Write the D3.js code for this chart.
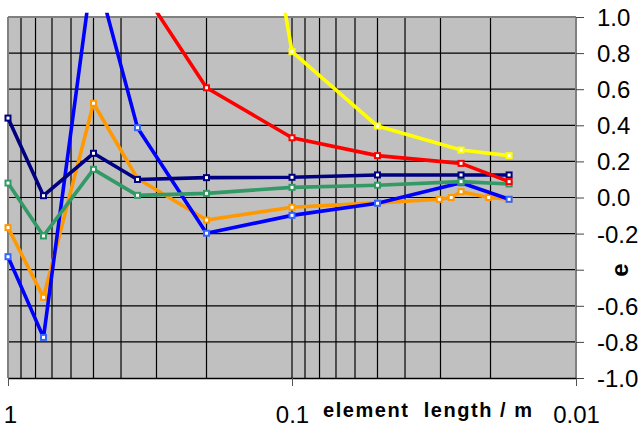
<!DOCTYPE html>
<html><head><meta charset="utf-8">
<script src="https://cdn.jsdelivr.net/npm/d3@7"></script>
<style>html,body{margin:0;padding:0;background:#fff;}svg{display:block;}</style>
</head><body>
<svg id="c" width="638" height="427"></svg>
<script>
// ---- data ----
const xTickLabels = ["1", "0.1", "0.01"];
const xTickValues = [1, 0.1, 0.01];
const yTickValues = [-1.0, -0.8, -0.6, -0.4, -0.2, 0.0, 0.2, 0.4, 0.6, 0.8, 1.0];
const yTickLabels = ["-1.0", "-0.8", "-0.6", "", "-0.2", "0.0", "0.2", "0.4", "0.6", "0.8", "1.0"];
const xGridValues = [0.9,0.8,0.7,0.6,0.5,0.4,0.3,0.2,0.1,0.09,0.08,0.07,0.06,0.05,0.04,0.03,0.02];

const lenMain   = [1, 0.75, 0.5, 0.35, 0.2, 0.1, 0.05, 0.0254, 0.0172];
const navyVals  = [0.44, 0.01, 0.245, 0.10, 0.11, 0.112, 0.125, 0.125, 0.125];
const greenVals = [0.08, -0.213, 0.156, 0.012, 0.023, 0.056, 0.068, 0.088, 0.075];
const blueVals  = [-0.328, -0.775, 1.3, 0.387, -0.198, -0.099, -0.032, 0.082, -0.01];
const lenOrange = [1, 0.75, 0.5, 0.35, 0.2, 0.1, 0.05, 0.0303, 0.0275, 0.0254, 0.0203, 0.0172];
const orangeVals= [-0.167, -0.553, 0.522, 0.105, -0.125, -0.054, -0.03, -0.01, 0.0, 0.032, 0.0, -0.01];
const lenRed    = [0.35, 0.2, 0.1, 0.05, 0.0254, 0.0172];
const redVals   = [1.19, 0.608, 0.331, 0.232, 0.189, 0.088];
const lenYellow = [0.2, 0.1, 0.05, 0.0254, 0.0172];
const yellowVals= [3.54, 0.808, 0.396, 0.263, 0.232];

const series = [
  {x: lenOrange, y: orangeVals, line: "#FF9900", mark: "#FF9900"},
  {x: lenMain,   y: blueVals,   line: "#0000FF", mark: "#3366FF"},
  {x: lenMain,   y: greenVals,  line: "#339966", mark: "#339966"},
  {x: lenMain,   y: navyVals,   line: "#000080", mark: "#000080"},
  {x: lenRed,    y: redVals,    line: "#FF0000", mark: "#FF0000"},
  {x: lenYellow, y: yellowVals, line: "#FFFF00", mark: "#FFFF00"}
];

// ---- layout ----
const L = 8, R = 576, T = 17, B = 378;
const svg = d3.select("#c");
const x = d3.scaleLog().domain([1, 0.01]).range([L, R]);
const y = d3.scaleLinear().domain([-1, 1]).range([B, T]);

// background
svg.append("rect").attr("x", L).attr("y", T).attr("width", R - L).attr("height", B - T).attr("fill", "#C0C0C0");

// grid
const g = svg.append("g");
g.selectAll("line.h").data(yTickValues.filter(v => v > -1 && v < 1)).enter().append("line")
  .attr("x1", L).attr("x2", R).attr("y1", d => y(d)).attr("y2", d => y(d))
  .attr("stroke", "#000").attr("stroke-width", 1.2);
g.selectAll("line.v").data(xGridValues).enter().append("line")
  .attr("y1", T).attr("y2", B).attr("x1", d => x(d)).attr("x2", d => x(d))
  .attr("stroke", "#000").attr("stroke-width", 1.2);

// border
svg.append("line").attr("x1", L).attr("x2", R).attr("y1", T).attr("y2", T).attr("stroke", "#808080").attr("stroke-width", 2);
svg.append("line").attr("x1", L).attr("x2", L).attr("y1", T).attr("y2", B).attr("stroke", "#808080").attr("stroke-width", 2);
svg.append("line").attr("x1", R).attr("x2", R).attr("y1", T).attr("y2", B).attr("stroke", "#808080").attr("stroke-width", 2);

// bottom axis
const xAxis = d3.axisBottom(x).tickValues(xTickValues).tickFormat((d, i) => xTickLabels[i]).tickSize(8).tickSizeOuter(0);
const gx = svg.append("g").attr("transform", `translate(0,${B})`).call(xAxis);
gx.select(".domain").attr("stroke", "#000").attr("stroke-width", 1.5);
gx.selectAll(".tick line").attr("stroke", "#555");
gx.selectAll(".tick text").attr("font-family", "Liberation Sans, Arial, sans-serif").attr("font-size", 24)
  .attr("fill", "#000").attr("y", 0).attr("dy", "45px")
  .attr("dx", (d, i) => i === 0 ? 2 : 0);

// right axis
const yAxis = d3.axisRight(y).tickValues(yTickValues).tickFormat((d, i) => yTickLabels[i]).tickSize(8).tickSizeOuter(0);
const gy = svg.append("g").attr("transform", `translate(${R},0)`).call(yAxis);
gy.select(".domain").remove();
gy.selectAll(".tick line").attr("stroke", "#444");
gy.selectAll(".tick text").attr("font-family", "Liberation Sans, Arial, sans-serif").attr("font-size", 24)
  .attr("fill", "#000").attr("x", 21).attr("dy", "0.35em");

// titles
svg.append("text").attr("x", 323).attr("y", 417)
  .attr("font-family", "Liberation Sans, Arial, sans-serif").attr("font-size", 20).attr("font-weight", "bold")
  .attr("textLength", 209).attr("lengthAdjust", "spacing")
  .style("white-space", "pre").text("element  length / m");
svg.append("text").attr("transform", "translate(628,270) rotate(-90)").attr("text-anchor", "middle")
  .attr("font-family", "Liberation Sans, Arial, sans-serif").attr("font-size", 24).attr("font-weight", "bold")
  .text("e");

// series
svg.append("clipPath").attr("id", "clip").append("rect").attr("x", L - 5).attr("y", 12.7).attr("width", R - L + 10).attr("height", B - 12.7);
const plot = svg.append("g").attr("clip-path", "url(#clip)");
const line = d3.line().x(d => x(d[0])).y(d => y(d[1]));
series.forEach(s => {
  const pts = s.x.map((xv, i) => [xv, s.y[i]]);
  const sg = plot.append("g");
  sg.append("path").attr("d", line(pts)).attr("fill", "none").attr("stroke", s.line).attr("stroke-width", 3.6).attr("stroke-linejoin", "round");
  sg.selectAll("rect").data(pts).enter().append("rect")
    .attr("x", d => x(d[0]) - 2.5).attr("y", d => y(d[1]) - 2.5).attr("width", 5).attr("height", 5)
    .attr("fill", "#fff").attr("stroke", s.mark).attr("stroke-width", 2);
});
</script>
</body></html>
